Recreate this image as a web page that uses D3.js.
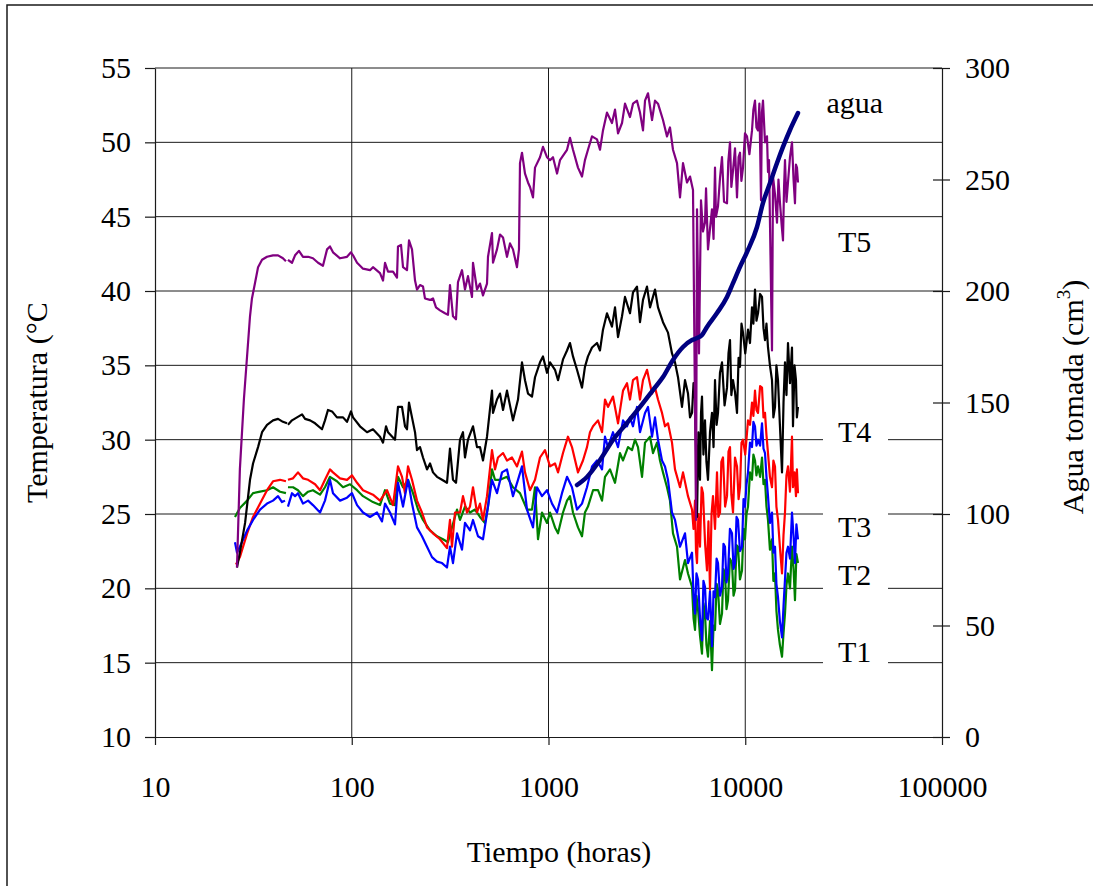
<!DOCTYPE html>
<html><head><meta charset="utf-8">
<script src="https://cdn.jsdelivr.net/npm/d3@7"></script>
<style>
html,body{margin:0;padding:0;background:#fff;}
svg{display:block;font-family:"Liberation Serif","Times New Roman",serif;}
</style></head><body>
<svg id="chart" width="1093" height="886"></svg>
<script>
// Axis ticks
const tiempoTicks = [10, 100, 1000, 10000, 100000];
const tempTicks = [10, 15, 20, 25, 30, 35, 40, 45, 50, 55];
const aguaTicks = [0, 50, 100, 150, 200, 250, 300];

// Series labels: [text, hours, value on temperature axis]
const seriesLabels = [["agua", 36000, 51.97], ["T5", 36000, 42.62], ["T4", 36000, 29.84],
  ["T3", 36000, 23.46], ["T2", 36000, 20.23], ["T1", 36000, 15.05]];
const boxedLabels = ["T4", "T3", "T2", "T1"];

// Temperature records: [hours, °C]; null marks a gap in logging
const T5 = [[26.1,21.4],[27.0,28.0],[28.3,32.7],[30.4,38.3],[31.1,39.5],[32.2,40.5],[33.4,41.6],[35.0,42.1],[37.1,42.3],[39.8,42.4],[42.2,42.4],[44.7,42.2],[46.3,42.0],[46.8,null],[47.4,42.1],[49.7,41.9],[51.5,42.4],[53.9,42.7],[56.5,42.3],[60.0,42.3],[63.5,42.2],[67.4,41.9],[71.4,41.7],[74.9,42.8],[77.5,43.0],[80.3,42.6],[87.2,42.2],[94.6,42.3],[99.1,42.6],[101.5,42.4],[106.4,41.9],[114.1,41.5],[123.8,41.4],[128.2,41.6],[139.2,41.2],[144.2,40.7],[147.6,41.9],[152.9,41.3],[162.1,41.3],[169.8,40.9],[171.8,43.0],[178.0,43.1],[182.2,41.6],[190.9,41.4],[195.4,43.4],[202.4,42.8],[209.7,40.7],[214.6,40.1],[222.3,40.4],[230.2,40.3],[235.6,39.5],[249.9,39.4],[258.8,39.5],[268.0,38.9],[280.9,38.7],[297.8,38.5],[308.4,38.4],[315.7,40.4],[327.0,38.3],[338.7,38.1],[346.7,40.6],[363.4,41.4],[376.3,40.1],[389.7,41.0],[408.5,39.6],[413.3,41.9],[433.1,40.1],[448.6,40.5],[464.6,39.7],[486.9,40.5],[492.6,42.3],[516.2,43.9],[522.3,41.9],[547.3,42.8],[567.0,43.8],[587.3,43.6],[615.2,42.3],[637.2,43.2],[660.0,42.8],[691.6,41.6],[707.9,42.8],[716.3,48.6],[733.3,49.3],[759.6,47.9],[786.7,47.3],[805.4,47.0],[834.2,46.3],[854.0,48.3],[905.3,49.0],[937.6,49.7],[982.6,49.0],[1018,48.8],[1054,49.0],[1105,47.9],[1144,48.8],[1242,49.5],[1286,50.3],[1332,49.5],[1412,48.3],[1480,47.7],[1532,48.8],[1587,49.5],[1664,50.4],[1764,50.2],[1827,49.5],[1892,50.8],[1983,52.0],[2102,51.3],[2178,52.2],[2256,50.6],[2364,51.3],[2448,52.6],[2595,51.7],[2688,52.6],[2817,52.8],[2918,52.0],[3022,50.8],[3094,52.8],[3204,53.3],[3359,51.5],[3478,52.8],[3602,52.6],[3819,51.5],[4002,50.4],[4144,51.0],[4293,49.5],[4499,48.6],[4660,46.3],[4827,48.6],[5058,47.3],[5241,47.7],[5426,46.8],[5620,24.6],[5686,45.5],[5820,35.8],[5958,46.1],[6098,44.0],[6243,44.6],[6320,46.9],[6466,42.8],[6620,44.2],[6776,45.5],[6900,43.5],[7019,48.3],[7100,45.0],[7270,45.7],[7442,47.6],[7618,49.0],[7800,46.0],[8077,45.9],[8200,48.7],[8365,50.0],[8500,47.0],[8665,48.1],[8870,49.6],[9080,46.3],[9250,49.0],[9404,49.3],[9560,47.4],[9740,48.3],[9970,50.6],[10206,50.4],[10500,49.2],[10822,50.8],[11000,52.2],[11208,52.8],[11400,51.0],[11610,50.8],[11800,52.6],[12027,46.1],[12150,52.0],[12310,52.8],[12600,50.0],[12898,50.4],[13050,48.0],[13204,48.8],[13676,36.0],[13838,47.7],[14165,46.5],[14501,44.6],[14750,47.5],[15020,45.9],[15300,44.5],[15554,43.4],[15750,47.0],[15922,48.8],[16200,46.0],[16491,47.3],[16880,49.0],[17280,50.0],[17600,47.5],[17895,45.9],[18100,48.5],[18321,48.3],[18537,47.3]];

const T4 = [[26.1,21.4],[27.0,22.4],[28.7,24.4],[30.4,27.3],[31.5,28.4],[33.4,29.5],[35.0,30.5],[37.1,31.0],[39.8,31.3],[42.2,31.4],[44.7,31.2],[46.9,31.1],[47.1,null],[47.4,31.0],[49.7,31.3],[52.7,31.5],[55.9,31.7],[57.9,31.4],[61.4,31.3],[65.1,31.1],[70.6,30.7],[73.1,31.3],[75.7,32.0],[79.4,31.9],[84.1,31.5],[90.3,31.5],[94.6,31.2],[99.1,31.9],[101.5,31.5],[110.1,30.9],[119.6,30.5],[128.2,30.7],[139.2,30.2],[144.2,29.8],[149.4,30.9],[152.9,30.5],[165.9,30.0],[171.8,32.2],[180.1,32.2],[186.5,30.9],[190.9,30.7],[195.4,32.5],[202.4,31.5],[209.7,30.5],[214.6,29.3],[222.3,29.5],[230.2,28.8],[241.3,28.0],[249.9,28.4],[258.8,27.8],[271.2,27.5],[287.6,27.3],[304.8,27.1],[315.7,29.4],[327.0,27.3],[338.7,27.1],[355.0,30.0],[367.6,30.5],[376.3,28.8],[389.7,30.0],[413.3,30.9],[433.1,29.5],[448.6,29.5],[464.6,28.6],[486.9,30.2],[516.2,33.3],[522.3,31.8],[547.3,32.7],[567.0,33.1],[587.3,32.0],[615.2,33.3],[660.0,31.3],[699.8,32.7],[733.3,35.2],[759.6,34.0],[786.7,33.1],[824.4,32.9],[854.0,34.2],[905.3,35.2],[937.6,35.6],[982.6,34.5],[1018,35.2],[1079,34.7],[1118,34.0],[1185,35.4],[1242,36.0],[1286,36.5],[1332,35.6],[1396,34.7],[1480,33.5],[1532,34.9],[1587,35.6],[1664,36.2],[1764,36.5],[1827,36.0],[1892,37.4],[1983,38.5],[2102,37.6],[2178,38.9],[2256,36.9],[2364,38.3],[2448,39.6],[2595,38.5],[2688,39.9],[2817,40.3],[2918,37.9],[3022,39.4],[3167,40.3],[3281,38.9],[3478,40.1],[3602,38.9],[3819,37.9],[4049,37.2],[4243,35.8],[4395,35.2],[4552,34.2],[4770,32.2],[4941,34.0],[5117,33.1],[5240,31.5],[5364,31.8],[5460,33.8],[5555,32.9],[5620,29.5],[5686,24.8],[5780,30.5],[5888,27.3],[5960,31.8],[6028,32.9],[6130,29.0],[6243,31.3],[6350,28.5],[6466,27.3],[6620,30.5],[6776,31.8],[6900,29.5],[7019,34.0],[7150,31.0],[7270,31.8],[7440,34.5],[7618,35.2],[7850,32.3],[8077,33.5],[8220,35.8],[8365,36.7],[8500,33.0],[8665,34.0],[8870,33.2],[9080,31.8],[9250,35.5],[9404,34.9],[9570,37.8],[9740,37.2],[10000,35.8],[10327,37.4],[10570,36.5],[10822,38.9],[11000,37.8],[11208,40.1],[11400,38.0],[11610,38.5],[11900,39.8],[12167,39.6],[12380,37.5],[12600,36.7],[12820,37.8],[13050,36.2],[13350,35.0],[13676,34.0],[13900,31.5],[14165,32.2],[14400,35.0],[14670,34.0],[15000,31.0],[15376,27.8],[15650,32.5],[15922,35.2],[16200,33.0],[16491,36.5],[16880,33.8],[17280,36.2],[17484,30.9],[17800,35.0],[18107,34.0],[18300,31.5],[18537,32.2]];

const T3 = [[25.8,21.6],[27.0,22.1],[29.4,23.7],[31.5,24.8],[34.2,25.7],[37.1,26.6],[39.8,27.2],[43.2,27.3],[46.3,27.2],[46.8,null],[47.4,27.3],[50.3,27.4],[53.3,27.8],[56.5,27.4],[60.0,27.3],[65.1,27.0],[69.0,26.6],[73.1,27.3],[77.5,28.0],[80.3,27.8],[87.2,27.4],[94.6,27.3],[100.3,27.6],[106.4,27.1],[114.1,26.6],[128.2,26.3],[139.2,25.9],[151.1,26.6],[162.1,25.6],[171.8,28.2],[180.1,27.5],[186.5,26.4],[193.2,28.2],[202.4,27.3],[214.6,25.9],[227.5,25.1],[241.3,24.1],[258.8,23.7],[280.9,23.3],[304.8,22.7],[315.7,24.6],[323.2,22.8],[334.8,25.1],[355.0,25.1],[367.6,26.2],[385.2,25.1],[399.0,25.5],[413.3,26.8],[433.1,25.1],[448.6,25.7],[464.6,24.6],[486.9,26.2],[516.2,29.3],[534.6,28.0],[553.8,28.8],[587.3,29.1],[615.2,28.6],[652.3,28.8],[691.6,28.2],[733.3,29.2],[759.6,27.8],[805.4,26.6],[854.0,27.3],[905.3,28.8],[959.9,29.3],[1018,28.2],[1079,28.4],[1118,27.8],[1185,29.1],[1256,30.2],[1316,29.5],[1412,27.8],[1497,28.6],[1569,29.5],[1625,30.5],[1684,30.9],[1785,31.3],[1871,30.5],[1937,32.7],[2006,32.2],[2127,32.9],[2256,31.1],[2392,33.3],[2506,33.8],[2595,32.7],[2688,34.0],[2817,34.2],[2918,32.7],[3022,34.0],[3167,34.7],[3359,33.1],[3478,33.5],[3602,32.7],[3775,31.8],[3909,30.9],[4049,31.1],[4243,29.8],[4395,28.0],[4660,26.8],[4827,27.8],[5117,26.2],[5364,25.3],[5460,24.0],[5555,25.9],[5620,22.5],[5686,21.7],[5780,25.0],[5888,22.8],[6000,26.8],[6098,26.4],[6250,23.0],[6391,21.2],[6500,24.5],[6620,19.9],[6740,25.0],[6856,26.2],[7020,24.0],[7185,27.8],[7300,24.8],[7442,25.1],[7560,28.5],[7708,28.8],[7900,25.5],[8077,26.2],[8220,29.2],[8365,29.5],[8500,26.3],[8665,25.1],[8870,28.8],[9080,28.2],[9250,26.0],[9404,26.8],[9570,29.8],[9740,30.0],[10000,29.0],[10327,31.3],[10570,31.0],[10822,32.5],[11000,31.6],[11208,33.3],[11400,32.0],[11610,31.8],[11900,33.6],[12167,33.5],[12380,31.5],[12600,31.8],[12820,30.3],[13050,29.1],[13350,27.5],[13676,26.8],[13900,28.6],[14165,28.2],[14400,25.5],[14670,24.6],[15000,22.8],[15376,21.0],[15650,23.6],[15922,25.1],[16200,27.6],[16491,28.2],[16880,26.5],[17280,30.2],[17484,26.8],[17800,27.8],[18107,26.2],[18300,28.0],[18537,26.4]];

const T2 = [[25.5,23.1],[26.1,22.4],[27.0,22.8],[29.4,23.9],[31.5,24.6],[34.2,25.3],[37.1,25.7],[39.8,25.9],[42.2,26.2],[44.2,25.8],[45.8,25.9],[46.6,null],[47.4,25.5],[49.7,26.4],[51.5,26.2],[53.3,26.4],[56.5,25.7],[60.0,25.9],[63.5,25.6],[69.0,25.1],[73.1,25.9],[77.5,27.3],[80.3,26.4],[87.2,25.9],[94.6,26.1],[100.3,26.4],[106.4,25.6],[114.1,25.1],[123.8,24.8],[134.4,25.1],[142.5,24.5],[147.6,25.7],[156.5,25.1],[165.9,24.3],[171.8,27.1],[182.2,25.5],[193.2,27.3],[202.4,25.7],[214.6,24.1],[227.5,23.5],[241.3,22.8],[255.8,22.1],[271.2,21.8],[287.6,21.7],[304.8,21.4],[315.7,22.8],[327.0,21.7],[342.8,23.7],[363.4,22.6],[376.3,24.4],[399.0,23.9],[413.3,24.6],[438.2,23.5],[464.6,23.3],[492.6,25.5],[516.2,27.3],[547.3,26.4],[580.4,27.8],[615.2,28.0],[660.0,26.2],[699.8,27.3],[733.3,28.2],[777.5,25.3],[834.2,24.1],[873.9,26.8],[926.8,26.2],[982.6,26.6],[1042,25.7],[1105,25.1],[1171,26.4],[1242,27.5],[1316,26.8],[1396,25.3],[1480,25.7],[1569,26.8],[1664,28.2],[1764,28.6],[1871,28.0],[1937,30.2],[2006,29.5],[2127,30.5],[2256,29.5],[2392,31.3],[2506,30.9],[2595,31.5],[2688,30.9],[2817,32.2],[2918,30.5],[3094,31.8],[3204,32.2],[3359,30.2],[3478,31.5],[3602,30.0],[3775,28.6],[3909,28.2],[4049,27.3],[4243,25.1],[4395,24.6],[4660,22.8],[4941,23.7],[5117,21.7],[5364,22.4],[5460,19.5],[5555,18.3],[5650,21.0],[5753,20.6],[5890,18.0],[6028,16.5],[6130,20.5],[6243,20.1],[6350,18.0],[6466,17.9],[6620,19.8],[6776,16.1],[6900,19.8],[7019,19.4],[7150,22.0],[7270,21.7],[7440,19.5],[7618,20.1],[7750,23.0],[7890,22.8],[8030,20.4],[8172,21.0],[8360,24.0],[8564,23.7],[8720,21.3],[8870,21.7],[9030,24.8],[9187,24.6],[9400,22.5],[9627,22.8],[9800,26.0],[9970,25.5],[10150,27.0],[10327,27.8],[10570,29.8],[10822,29.5],[11000,31.2],[11208,30.9],[11400,29.6],[11610,30.0],[11900,29.6],[12167,31.1],[12380,29.4],[12600,29.1],[12820,27.5],[13050,26.2],[13350,24.4],[13676,25.1],[13900,22.4],[14165,22.8],[14400,20.3],[14670,19.4],[15000,17.8],[15376,16.7],[15650,18.8],[15922,20.6],[16200,22.4],[16491,22.8],[16880,22.0],[17280,25.1],[17600,23.5],[17895,21.7],[18200,24.3],[18537,23.3]];

const T1 = [[25.5,24.8],[27.0,25.4],[29.4,25.9],[31.5,26.4],[34.2,26.5],[37.1,26.6],[39.8,26.8],[43.2,26.5],[46.3,26.4],[46.8,null],[47.4,26.8],[50.3,26.8],[53.3,26.6],[56.5,26.2],[60.0,26.5],[63.5,26.6],[69.0,26.3],[73.1,26.8],[77.5,27.5],[84.1,27.2],[90.3,26.8],[98.0,27.0],[106.4,26.6],[114.1,26.2],[128.2,25.8],[139.2,25.6],[147.6,26.6],[156.5,25.7],[165.9,25.6],[171.8,27.5],[182.2,26.8],[193.2,27.3],[204.8,26.4],[217.2,25.3],[230.2,24.6],[249.9,23.9],[271.2,23.5],[290.9,23.3],[308.4,23.1],[323.2,24.1],[342.8,25.3],[355.0,24.6],[376.3,25.5],[399.0,25.1],[423.1,25.3],[448.6,24.8],[475.6,24.4],[492.6,25.5],[516.2,28.0],[534.6,27.3],[567.0,27.3],[615.2,27.5],[660.0,26.8],[716.3,26.4],[777.5,25.3],[824.4,25.3],[854.0,26.8],[884.3,23.3],[926.8,25.1],[982.6,24.4],[1018,25.1],[1079,24.1],[1118,23.7],[1185,25.1],[1242,25.9],[1286,26.2],[1332,25.1],[1412,24.1],[1480,23.5],[1532,25.1],[1587,25.5],[1684,26.6],[1785,26.6],[1871,25.9],[1937,27.5],[2054,28.0],[2178,27.1],[2309,29.1],[2392,28.6],[2536,29.5],[2657,29.3],[2752,30.0],[2850,29.5],[2988,27.5],[3094,29.8],[3281,30.2],[3397,29.1],[3560,29.8],[3687,28.6],[3819,27.8],[4002,26.8],[4144,25.9],[4293,23.7],[4499,22.8],[4660,20.6],[4941,21.9],[5117,21.0],[5364,20.1],[5460,18.0],[5555,17.2],[5650,19.5],[5753,18.6],[5890,16.8],[6028,15.6],[6130,19.0],[6243,18.3],[6350,16.2],[6466,15.4],[6620,17.8],[6776,14.5],[6900,17.5],[7019,17.2],[7150,20.3],[7270,19.9],[7440,17.6],[7618,18.3],[7750,21.3],[7890,21.0],[8030,18.6],[8172,19.2],[8360,22.0],[8564,21.7],[8720,19.5],[8870,19.9],[9030,22.9],[9187,22.8],[9400,20.6],[9627,21.2],[9800,24.0],[9970,23.3],[10150,25.0],[10327,25.5],[10570,27.8],[10822,27.3],[11000,29.0],[11208,28.6],[11400,27.6],[11610,28.2],[11900,27.5],[12167,28.8],[12380,27.0],[12600,27.3],[12820,25.5],[13050,24.6],[13350,22.6],[13676,23.3],[13900,20.5],[14165,21.0],[14400,18.5],[14670,17.2],[15000,16.2],[15376,15.4],[15650,17.0],[15922,18.3],[16200,20.2],[16491,21.0],[16880,20.0],[17280,22.8],[17600,21.3],[17895,19.2],[18200,22.3],[18537,21.7]];

// Cumulative water intake: [hours, cm³]
const agua = [[1396,113.0],[1569,116.6],[1827,124.2],[2127,133.2],[2506,140.8],[2918,148.0],[3397,155.6],[3819,161.4],[4293,169.1],[4827,174.9],[5364,178.0],[5686,178.9],[6028,180.3],[6391,183.9],[7185,190.1],[8077,197.3],[8665,203.5],[9404,210.8],[10327,218.4],[11473,228.7],[12310,239.5],[13360,248.4],[14501,257.4],[15554,264.6],[16880,272.2],[18537,279.8]];

const W = 1093, H = 886;
const plot = {left: 155, right: 942, top: 68, bottom: 737};
const ink = "#1a1a1a";
const fontSize = 30;

const svg = d3.select("#chart");
const x = d3.scaleLog().domain([10, 100000]).range([plot.left, plot.right]);
const yT = d3.scaleLinear().domain([10, 55]).range([plot.bottom, plot.top]);
const yA = d3.scaleLinear().domain([0, 300]).range([plot.bottom, plot.top]);

// page frame
svg.append("path").attr("d", `M7,${H + 2}V5H${W + 2}`)
  .attr("fill", "none").attr("stroke", ink).attr("stroke-width", 1.5);

// gridlines
const gH = svg.append("g");
gH.selectAll("line").data(tempTicks.filter(d => d > 10)).join("line")
  .attr("x1", plot.left).attr("x2", plot.right)
  .attr("y1", d => yT(d)).attr("y2", d => yT(d))
  .attr("stroke", ink).attr("stroke-width", 1);
const gV = svg.append("g");
gV.selectAll("line").data(tiempoTicks.slice(1, -1)).join("line")
  .attr("x1", d => x(d)).attr("x2", d => x(d))
  .attr("y1", plot.top).attr("y2", plot.bottom)
  .attr("stroke", ink).attr("stroke-width", 1);

// axes
function styleAxis(g) {
  g.attr("font-family", null).attr("font-size", null);
  g.selectAll("text").attr("font-size", fontSize).attr("fill", "#000")
    .attr("font-family", "'Liberation Serif','Times New Roman',serif");
  g.selectAll("line, path").attr("stroke", ink).attr("stroke-width", 1.2);
}
svg.append("g").attr("transform", `translate(${plot.left},0)`)
  .call(d3.axisLeft(yT).tickValues(tempTicks).tickSize(10).tickSizeOuter(0).tickPadding(14))
  .call(styleAxis);
const gR = svg.append("g").attr("transform", `translate(${plot.right},0)`)
  .call(d3.axisRight(yA).tickValues(aguaTicks).tickSize(8).tickSizeOuter(0).tickPadding(15))
  .call(styleAxis);
gR.selectAll(".tick line").attr("x1", -9);
svg.append("g").attr("transform", `translate(0,${plot.bottom})`)
  .call(d3.axisBottom(x).tickValues(tiempoTicks).tickFormat(d3.format("d")).tickSize(8).tickSizeOuter(0).tickPadding(31))
  .call(styleAxis);

// axis titles
svg.append("text").attr("x", 559).attr("y", 862).attr("text-anchor", "middle")
  .attr("font-size", fontSize).text("Tiempo (horas)");
svg.append("text").attr("transform", "translate(47,503) rotate(-90)")
  .attr("font-size", fontSize).text("Temperatura (°C");
const rt = svg.append("text").attr("transform", "translate(1083,397) rotate(-90)")
  .attr("text-anchor", "middle").attr("font-size", fontSize);
rt.append("tspan").text("Agua tomada (cm");
rt.append("tspan").attr("font-size", 19).attr("dy", -13).text("3");
rt.append("tspan").attr("dy", 13).text(")");

// series label boxes and text
const lab = svg.append("g");
lab.selectAll("rect").data(seriesLabels.filter(d => boxedLabels.includes(d[0]))).join("rect")
  .attr("x", 823).attr("width", 65)
  .attr("y", d => yT(d[2]) - 24).attr("height", 30).attr("fill", "#fff");
lab.selectAll("text").data(seriesLabels).join("text")
  .attr("x", d => x(d[1])).attr("y", d => yT(d[2]))
  .attr("text-anchor", "middle").attr("font-size", fontSize).text(d => d[0]);

// data lines
const lineT = d3.line().defined(d => d[1] !== null).x(d => x(d[0])).y(d => yT(d[1]));
const lineA = d3.line().x(d => x(d[0])).y(d => yA(d[1])).curve(d3.curveMonotoneX);
const series = [[T1, "#008000"], [T3, "#ff0000"], [T2, "#0000ff"], [T4, "#000000"], [T5, "#800080"]];
const gL = svg.append("g").attr("fill", "none").attr("stroke-linejoin", "round");
series.forEach(([data, color]) => {
  gL.append("path").datum(data).attr("d", lineT)
    .attr("stroke", color).attr("stroke-width", 2.2);
});
gL.append("path").datum(agua).attr("d", lineA)
  .attr("stroke", "#000080").attr("stroke-width", 4.5).attr("stroke-linecap", "round");
</script>
</body></html>
